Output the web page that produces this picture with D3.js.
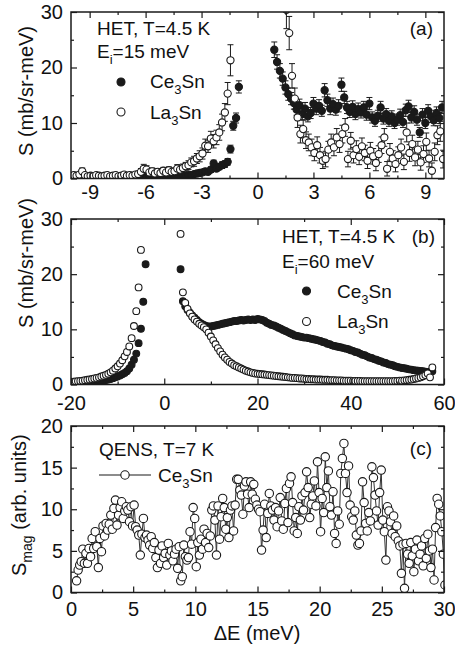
<!DOCTYPE html>
<html>
<head>
<meta charset="utf-8">
<script src="https://cdn.jsdelivr.net/npm/d3@7"></script>
<style>
  body { margin: 0; background: #fff; }
  text { font-family: "Liberation Sans", Arial, Helvetica, sans-serif; fill: #111; }
</style>
</head>
<body>
<div class="chart"></div>
<script>
var svgWidth = 455;
var svgHeight = 651;
var left = 71, right = 444;
var ink = "#1a1a1a";

// ---------- panel (a): HET, Ei = 15 meV ----------
var aStep = 0.15;
var aCeNegStart = -9.85;
var aCeNeg = [0.3,0.2,0.4,0.3,0.2,0.3,0.4,0.2,0.3,0.3, 0.2,0.4,0.3,0.3,0.2,0.4,0.3,0.2,0.3,0.4,
  0.3,0.2,0.3,0.4,0.3,0.3,0.4,0.3,0.2,0.4, 0.3,0.4,0.3,
  0.4,0.5,0.3,0.5,0.6,0.4,0.6,0.5,0.7,0.6, 0.8,0.9,1.0,1.1,1.3,1.2,1.6,2.7,1.8,2.1,
  2.4,2.6,3.0,5.3,9.5,10.9,16.5];
var aCeNegErr = [0.2,0.2,0.2,0.2,0.2,0.2,0.2,0.2,0.2,0.2, 0.2,0.2,0.2,0.2,0.2,0.2,0.2,0.2,0.2,0.2,
  0.2,0.2,0.2,0.2,0.2,0.2,0.2,0.2,0.2,0.2, 0.2,0.2,0.2,
  0.2,0.2,0.2,0.2,0.3,0.2,0.3,0.2,0.3,0.3, 0.3,0.3,0.4,0.4,0.4,0.4,0.5,0.6,0.5,0.5,
  0.6,0.6,0.6,0.7,0.8,0.9,1.1];
var aLaNegStart = -9.85;
var aLaNeg = [0.6,0.5,0.7,1.3,0.6,0.4,0.5,0.4,0.6,0.5, 0.4,0.5,0.6,0.4,0.5,0.6,0.4,0.5,0.7,0.5,
  0.6,0.5,0.7,0.8,1.2,1.75,1.6,1.1,1.3,0.9, 1.2,1.0,1.4,1.1,1.5,1.2,1.3,1.8,1.6,1.9,
  2.2,2.4,2.9,3.1,3.6,4.0,4.5,5.9,5.8,7.2, 6.7,7.4,8.3,10.1,11.9,15.3,21.3];
var aLaNegErr = [0.4,0.4,0.4,0.6,0.4,0.3,0.3,0.3,0.4,0.3, 0.3,0.3,0.4,0.3,0.3,0.4,0.3,0.3,0.4,0.3,
  0.4,0.3,0.4,0.5,0.6,0.8,0.7,0.6,0.6,0.5, 0.6,0.5,0.6,0.5,0.6,0.5,0.6,0.7,0.6,0.7,
  0.7,0.8,0.8,0.9,0.9,1.0,1.0,1.2,1.1,1.3, 1.2,1.3,1.4,1.5,1.6,2.0,2.8];
var aCePosStart = 0.9;
var aCePos = [23.2,21.0,19.4,18.0,16.4,15.2,14.4,13.6,12.4,13.2, 11.6,12.6,11.2,11.8,13.5,12.6,13.1,12.2,15.9,14.1,
  12.6,13.4,12.4,13.1,16.9,14.6,12.8,12.0,12.9,11.6, 12.5,11.9,12.8,11.5,13.5,11.0,10.4,11.3,12.8,10.8,
  11.6,10.4,11.2,10.0,10.6,11.4,10.2,12.3,13.0,11.0, 12.0,10.6,8.3,11.5,10.0,12.2,11.2,10.5,11.8,10.9, 12.8];
var aCePosErr = [1.4,1.3,1.3,1.2,1.2,1.1,1.1,1.1,1.0,1.1, 1.0,1.1,1.0,1.0,1.1,1.1,1.1,1.0,1.2,1.1,
  1.1,1.1,1.0,1.1,1.2,1.1,1.1,1.0,1.1,1.0, 1.1,1.0,1.1,1.0,1.1,1.0,1.0,1.0,1.1,1.0,
  1.0,1.0,1.0,1.0,1.0,1.1,1.0,1.1,1.1,1.0, 1.1,1.0,0.9,1.1,1.0,1.1,1.1,1.0,1.1,1.0, 1.1];
var aLaPosStart = 1.55;
var aLaPos = [30.4,26.2,18.5,14.4,11.0,8.0,8.9,6.9,6.5,5.6, 4.6,6.0,4.2,3.2,3.5,5.2,6.5,5.6,7.4,6.2,
  8.0,9.2,3.5,6.8,4.2,5.3,3.9,5.8,4.6,3.2, 5.0,4.0,2.8,4.4,6.0,7.4,1.75,4.8,3.6,2.6,
  4.2,5.6,3.0,8.3,4.6,6.2,3.8,5.2,2.9,4.4, 6.6,3.6,1.4,4.8,7.8,8.5,3.5];
var aLaPosErr = [3.4,3.0,2.2,1.9,1.8,1.6,1.6,1.5,1.5,1.5, 1.4,1.5,1.4,1.4,1.4,1.5,1.5,1.5,1.6,1.5,
  1.6,1.6,1.4,1.5,1.4,1.5,1.4,1.5,1.4,1.4, 1.5,1.4,1.4,1.5,1.5,1.6,1.3,1.5,1.4,1.4,
  1.5,1.5,1.4,1.7,1.5,1.6,1.5,1.5,1.4,1.5, 1.6,1.5,1.4,1.6,1.7,1.8,1.6];

// ---------- panel (b): HET, Ei = 60 meV ----------
var bStep = 0.5;
var bCeNegStart = -20;
var bCeNeg = [0.3,0.3,0.32,0.33,0.35,0.37,0.4,0.42,0.45,0.48, 0.5,0.55,0.6,0.65,0.72,0.8,0.9,1.0,1.15,1.3,
  1.45,1.65,1.85,2.1,2.4,2.9,3.6,4.5,5.6,7.5, 10.1,15.0,21.8];
var bLaNegStart = -20;
var bLaNeg = [0.5,0.53,0.57,0.6,0.65,0.7,0.78,0.85,0.92,1.0, 1.1,1.2,1.3,1.45,1.6,1.75,1.95,2.2,2.5,2.9,
  3.3,3.8,4.4,5.1,5.9,6.9,8.4,10.6,13.3,17.6, 24.4];
var bCePosStart = 3.5;
var bCePos = [20.9,15.1,14.2,13.5,13.0,12.5,12.1,11.7,11.3,11.0, 10.8,10.6,10.5,10.5,10.6,10.7,10.8,10.9,11.0,11.1,
  11.2,11.3,11.4,11.5,11.5,11.6,11.7,11.6,11.7,11.8, 11.7,11.8,11.7,11.9,11.8,11.7,11.5,11.2,11.0,10.8,
  10.7,10.5,10.3,10.1,9.9,9.7,9.5,9.3,9.1,8.9, 8.8,8.7,8.6,8.5,8.5,8.4,8.3,8.2,8.1,8.0,
  7.9,7.7,7.6,7.4,7.3,7.1,7.0,6.9,6.8,6.7, 6.6,6.5,6.4,6.2,6.1,5.9,5.8,5.6,5.4,5.3,
  5.1,4.9,4.8,4.6,4.5,4.3,4.2,4.0,3.9,3.7, 3.6,3.5,3.3,3.2,3.1,3.0,2.95,2.85,2.75,2.7,
  2.6,2.55,2.5,2.45,2.4,2.3,2.25,2.3,2.4];
var bLaPosStart = 3.5;
var bLaPos = [27.3,16.7,14.8,13.7,12.9,12.3,11.8,11.4,11.0,10.7, 10.4,10.0,9.4,8.7,8.0,7.3,6.6,6.0,5.4,4.9,
  4.5,4.1,3.8,3.5,3.3,3.1,2.9,2.7,2.5,2.35, 2.2,2.1,2.0,1.95,1.9,1.85,1.8,1.75,1.7,1.65,
  1.6,1.55,1.5,1.45,1.4,1.35,1.3,1.25,1.2,1.2, 1.15,1.1,1.1,1.05,1.0,1.0,0.95,0.95,0.9,0.9,
  0.9,0.85,0.85,0.85,0.8,0.8,0.8,0.75,0.75,0.75, 0.7,0.7,0.7,0.7,0.65,0.65,0.65,0.65,0.6,0.6,
  0.6,0.6,0.6,0.6,0.6,0.6,0.6,0.6,0.6,0.6, 0.6,0.6,0.65,0.65,0.7,0.7,0.75,0.8,0.85,0.9,
  1.0,1.1,1.2,1.3,1.5,1.7,2.0,1.3,3.1];

// ---------- panel (c): QENS, T = 7 K ----------
var cStart = 0.45;
var cStep = 0.125;
var cCe = [1.4,2.7,3.3,3.7,5.2,3.5,4.7,3.5,5.3,4.3,6.5,5.3,7.3,5.5,3.0,6.5,
  4.9,8.0,6.8,8.3,7.5,8.2,9.3,7.6,10.1,11.1,8.1,9.3,10.2,10.9,8.9,9.8,
  10.3,9.9,8.5,10.3,8.0,10.5,7.9,7.5,6.9,4.5,7.0,8.9,6.6,6.9,6.3,5.7,
  6.7,5.3,6.0,4.2,3.0,5.1,3.5,5.6,4.2,4.7,3.3,5.9,4.5,5.0,3.8,4.6,
  5.2,2.9,5.5,1.4,1.9,5.7,4.3,3.9,4.2,7.3,5.8,10.2,8.9,3.1,6.0,4.5,
  6.4,5.2,7.6,6.0,7.1,5.4,6.8,9.9,10.4,8.7,4.5,10.4,6.4,9.1,11.3,10.2,
  7.6,9.0,6.6,9.9,10.4,7.4,10.5,13.6,13.6,12.3,11.7,9.4,12.8,13.3,11.8,10.2,
  13.3,11.8,13.0,11.2,10.5,10.0,9.7,5.1,7.5,10.6,6.6,9.5,11.9,10.4,9.9,8.7,
  10.2,7.9,9.8,11.4,8.6,7.6,10.7,12.5,8.4,13.1,13.9,10.8,7.4,9.0,7.1,10.3,
  8.7,11.6,9.9,12.0,14.5,12.6,9.0,10.6,11.6,13.4,10.4,15.7,12.0,7.3,11.3,9.6,
  16.3,12.6,14.6,10.3,9.3,12.1,7.1,5.9,9.8,8.2,14.3,16.1,17.9,14.3,12.0,15.2,
  10.5,9.1,8.7,9.8,6.9,5.7,5.9,7.4,13.3,10.8,8.3,7.4,9.6,8.6,15.1,13.8,
  11.7,9.8,8.1,12.0,14.7,8.7,7.3,3.9,10.3,9.8,8.5,7.1,9.2,6.7,8.0,6.2,
  5.6,2.3,5.8,0.5,5.9,4.6,3.5,6.0,4.4,2.5,5.2,6.3,3.8,4.6,5.6,3.2,
  6.5,4.1,7.0,5.0,3.0,5.2,1.5,7.8,11.3,10.6,9.2,7.3,4.6,0.9];

var svg = d3.select(".chart")
  .append("svg")
  .attr("width", svgWidth)
  .attr("height", svgHeight);

// pair energies (regular grid) with values
function toPoints(start, step, values, errors) {
  return values.map((v, i) => ({ e: start + step * i, v: v, err: errors ? errors[i] : 0 }));
}

function makePanel(name, top, bottom, xDomain, yDomain) {
  var h = bottom - top;
  var w = right - left;
  var g = svg.append("g").attr("transform", `translate(${left}, ${top})`);
  var x = d3.scaleLinear().domain(xDomain).range([0, w]);
  var y = d3.scaleLinear().domain(yDomain).range([h, 0]);
  g.append("clipPath").attr("id", "clip-" + name)
    .append("rect").attr("width", w).attr("height", h);
  var plot = g.append("g").attr("clip-path", `url(#clip-${name})`);
  return { g: g, plot: plot, x: x, y: y, h: h, w: w, top: top };
}

function drawAxes(p, xMajor, xMinor, yMajor, yMinor, xPad) {
  var fmt = d => String(d);
  var list = [
    [d3.axisBottom(p.x).tickValues(xMajor).tickSize(-6).tickPadding(xPad).tickFormat(fmt), `translate(0, ${p.h})`],
    [d3.axisBottom(p.x).tickValues(xMinor).tickSize(-3).tickFormat(""), `translate(0, ${p.h})`],
    [d3.axisTop(p.x).tickValues(xMajor).tickSize(-6).tickFormat(""), "translate(0, 0)"],
    [d3.axisTop(p.x).tickValues(xMinor).tickSize(-3).tickFormat(""), "translate(0, 0)"],
    [d3.axisLeft(p.y).tickValues(yMajor).tickSize(-6).tickPadding(8).tickFormat(fmt), "translate(0, 0)"],
    [d3.axisLeft(p.y).tickValues(yMinor).tickSize(-3).tickFormat(""), "translate(0, 0)"],
    [d3.axisRight(p.y).tickValues(yMajor).tickSize(-6).tickFormat(""), `translate(${p.w}, 0)`],
    [d3.axisRight(p.y).tickValues(yMinor).tickSize(-3).tickFormat(""), `translate(${p.w}, 0)`]
  ];
  list.forEach(function(a) {
    var ax = p.g.append("g")
      .attr("transform", a[1])
      .call(a[0])
      .attr("font-size", 20)
      .attr("font-family", null);
    ax.select(".domain").remove();
    ax.selectAll(".tick line").attr("stroke", ink).attr("stroke-width", 1.2);
    ax.selectAll(".tick text").attr("fill", "#111");
  });
  p.g.append("rect")
    .attr("width", p.w)
    .attr("height", p.h)
    .attr("fill", "none")
    .attr("stroke", ink)
    .attr("stroke-width", 1.5);
}

function drawErrors(p, pts) {
  var grp = p.plot.append("g").attr("stroke", ink).attr("stroke-width", 1);
  pts.forEach(function(d) {
    if (!d.err) return;
    var cx = p.x(d.e), y0 = p.y(d.v - d.err), y1 = p.y(d.v + d.err);
    grp.append("line").attr("x1", cx).attr("x2", cx).attr("y1", y0).attr("y2", y1);
    grp.append("line").attr("x1", cx - 3).attr("x2", cx + 3).attr("y1", y0).attr("y2", y0);
    grp.append("line").attr("x1", cx - 3).attr("x2", cx + 3).attr("y1", y1).attr("y2", y1);
  });
}

function drawMarkers(p, pts, filled, r) {
  p.plot.append("g").selectAll("circle")
    .data(pts)
    .enter()
    .append("circle")
    .attr("cx", d => p.x(d.e))
    .attr("cy", d => p.y(d.v))
    .attr("r", r)
    .attr("fill", filled ? ink : "#fff")
    .attr("stroke", ink)
    .attr("stroke-width", 1.1);
}

// text with subscript parts: [["Ce"], ["3", true], ["Sn"]]
function richText(g, x, y, parts, size, transform) {
  var t = g.append("text").attr("x", x).attr("y", y).attr("font-size", size);
  if (transform) t.attr("transform", transform);
  var shift = Math.round(size * 0.3);
  var low = false;
  parts.forEach(function(pt) {
    var ts = t.append("tspan").text(pt[0]);
    if (pt[1]) {
      ts.attr("font-size", Math.round(size * 0.68)).attr("dy", low ? 0 : shift);
      low = true;
    } else if (low) {
      ts.attr("dy", -shift);
      low = false;
    }
  });
  return t;
}

function legendMarker(x, y, filled, r) {
  svg.append("circle")
    .attr("cx", x).attr("cy", y).attr("r", r)
    .attr("fill", filled ? ink : "#fff")
    .attr("stroke", ink).attr("stroke-width", 1.1);
}

// ---------- draw (a) ----------
var pa = makePanel("a", 12, 178.5, [-10, 10], [0, 30]);
drawAxes(pa, [-9, -6, -3, 0, 3, 6, 9], [-7.5, -4.5, -1.5, 1.5, 4.5, 7.5], [0, 10, 20, 30], [5, 15, 25], 6);
var aCe = toPoints(aCeNegStart, aStep, aCeNeg, aCeNegErr).concat(toPoints(aCePosStart, aStep, aCePos, aCePosErr));
var aLa = toPoints(aLaNegStart, aStep, aLaNeg, aLaNegErr).concat(toPoints(aLaPosStart, aStep, aLaPos, aLaPosErr));
drawErrors(pa, aCe);
drawErrors(pa, aLa);
drawMarkers(pa, aCe, true, 3.6);
drawMarkers(pa, aLa, false, 3.6);

richText(svg, 97, 34.5, [["HET, T=4.5 K"]], 19);
richText(svg, 97, 57.5, [["E"], ["i", true], ["=15 meV"]], 19);
richText(svg, 433, 34.5, [["(a)"]], 19).attr("text-anchor", "end");
legendMarker(121, 82, true, 4);
legendMarker(121, 112, false, 4);
richText(svg, 150, 88, [["Ce"], ["3", true], ["Sn"]], 19);
richText(svg, 150, 118.5, [["La"], ["3", true], ["Sn"]], 19);
richText(svg, 0, 0, [["S (mb/sr-meV)"]], 20, "translate(33, 91) rotate(-90)").attr("text-anchor", "middle");

// ---------- draw (b) ----------
var pb = makePanel("b", 219, 384.5, [-20, 60], [0, 30]);
drawAxes(pb, [-20, 0, 20, 40, 60], [-10, 10, 30, 50], [0, 10, 20, 30], [5, 15, 25], 11);
var bCe = toPoints(bCeNegStart, bStep, bCeNeg).concat(toPoints(bCePosStart, bStep, bCePos));
var bLa = toPoints(bLaNegStart, bStep, bLaNeg).concat(toPoints(bLaPosStart, bStep, bLaPos));
drawMarkers(pb, bCe, true, 3.4);
drawMarkers(pb, bLa, false, 3.4);

richText(svg, 282, 243, [["HET, T=4.5 K"]], 19);
richText(svg, 435, 243, [["(b)"]], 19).attr("text-anchor", "end");
richText(svg, 282, 267.5, [["E"], ["i", true], ["=60 meV"]], 19);
legendMarker(306.5, 291, true, 4);
legendMarker(306.5, 321.5, false, 4);
richText(svg, 337, 297.5, [["Ce"], ["3", true], ["Sn"]], 19);
richText(svg, 337, 328, [["La"], ["3", true], ["Sn"]], 19);
richText(svg, 0, 0, [["S (mb/sr-meV)"]], 20, "translate(33, 263) rotate(-90)").attr("text-anchor", "middle");

// ---------- draw (c) ----------
var pc = makePanel("c", 426, 592.5, [0, 30], [0, 20]);
drawAxes(pc, [0, 5, 10, 15, 20, 25, 30], [2.5, 7.5, 12.5, 17.5, 22.5, 27.5], [0, 5, 10, 15, 20], [2.5, 7.5, 12.5, 17.5], 9);
var cPts = toPoints(cStart, cStep, cCe);
pc.plot.append("path")
  .datum(cPts)
  .attr("fill", "none")
  .attr("stroke", "#333")
  .attr("stroke-width", 1)
  .attr("d", d3.line().x(d => pc.x(d.e)).y(d => pc.y(d.v)));
drawMarkers(pc, cPts, false, 4.2);

richText(svg, 99, 456, [["QENS, T=7 K"]], 19);
richText(svg, 432, 455, [["(c)"]], 19).attr("text-anchor", "end");
svg.append("line").attr("x1", 99).attr("x2", 151).attr("y1", 475).attr("y2", 475)
  .attr("stroke", "#666").attr("stroke-width", 1.3);
legendMarker(125, 475, false, 4.2);
richText(svg, 158, 481.5, [["Ce"], ["3", true], ["Sn"]], 19);
richText(svg, 0, 0, [["S"], ["mag", true], [" (arb. units)"]], 20, "translate(26, 576) rotate(-90)");

svg.append("text")
  .attr("x", 257)
  .attr("y", 640)
  .attr("text-anchor", "middle")
  .attr("font-size", 20)
  .text("\u0394E (meV)");
</script>
</body>
</html>
